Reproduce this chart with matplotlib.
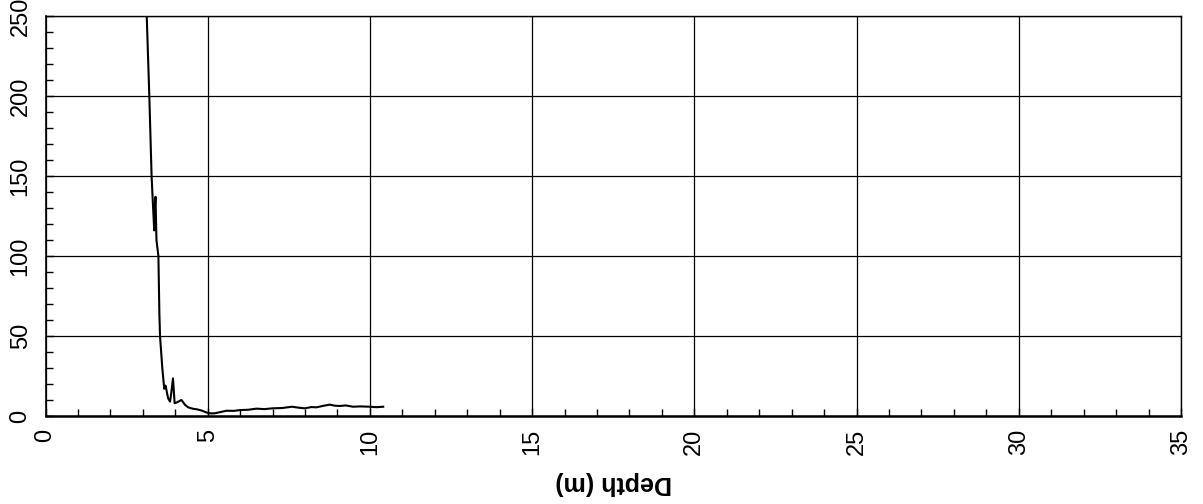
import matplotlib
matplotlib.use("Agg")
import matplotlib.pyplot as plt
from matplotlib.ticker import MultipleLocator

plt.rcParams['font.family'] = ['Liberation Sans', 'DejaVu Sans']

depth = [3.08, 3.12, 3.20, 3.27, 3.30, 3.33, 3.35, 3.37, 3.39, 3.42, 3.48, 3.51, 3.53, 3.60,
         3.66, 3.70, 3.73, 3.78, 3.84, 3.88, 3.93, 3.98, 4.05, 4.19, 4.30, 4.40, 4.55, 4.66,
         4.80, 4.99, 5.10, 5.22, 5.40, 5.58, 5.80, 6.00, 6.25, 6.50, 6.75, 7.00, 7.30, 7.60,
         7.80, 8.00, 8.20, 8.35, 8.55, 8.76, 8.90, 9.07, 9.25, 9.48, 9.70, 10.00, 10.20, 10.41]
value = [262, 250, 200, 150, 137, 125, 116, 130, 137, 110, 100, 64, 50, 30,
         17, 19, 16, 11, 9, 15, 23.5, 8, 8.5, 10, 7, 5.4, 4.5, 4.2,
         3.5, 2.0, 1.6, 1.7, 2.5, 3.3, 3.2, 3.7, 3.9, 4.6, 4.3, 4.8, 5.0, 5.8,
         5.2, 4.8, 5.6, 5.4, 6.3, 7.1, 6.5, 6.25, 6.6, 5.8, 6.0, 5.8, 5.5, 5.8]

x_ticks = [0, 5, 10, 15, 20, 25, 30, 35]
y_ticks = [0, 50, 100, 150, 200, 250]

fig = plt.figure(figsize=(12.03, 5.04), dpi=100)
ax = fig.add_axes([45.5/1203, 1 - 416/504, (1181 - 45.5)/1203, 400/504])

ax.plot(depth, value, color='black', lw=1.5, clip_on=True)

ax.set_xlim(0, 35)
ax.set_ylim(0, 250)
ax.set_xticks(x_ticks)
ax.set_yticks(y_ticks)
ax.xaxis.set_minor_locator(MultipleLocator(1))
ax.yaxis.set_minor_locator(MultipleLocator(10))
ax.tick_params(which='both', direction='in', color='black', labelsize=17)
ax.tick_params(which='major', length=6, width=1)
ax.tick_params(which='minor', length=5, width=1)
ax.tick_params(axis='x', labelrotation=90, pad=9)
ax.tick_params(axis='y', labelrotation=90, pad=10)
for lbl in ax.get_yticklabels():
    lbl.set_va('center')

ax.grid(True, which='major', color='black', lw=0.9)
for s in ax.spines.values():
    s.set_linewidth(1.0)
ax.spines['bottom'].set_linewidth(1.8)
ax.spines['left'].set_linewidth(1.2)

ax.set_xlabel('Depth (m)', fontsize=18, fontweight='bold', rotation=180, labelpad=12)

fig.savefig('out.png', dpi=100)
